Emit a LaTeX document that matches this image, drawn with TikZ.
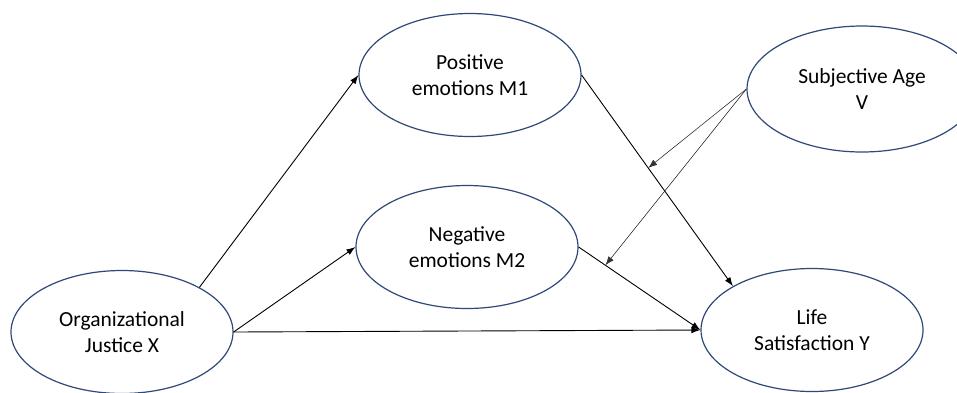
\documentclass[tikz,border=0pt]{standalone}
\usepackage{fontspec}
\setmainfont{Carlito}
\usetikzlibrary{shapes.geometric,arrows.meta,calc}
\definecolor{ellblue}{RGB}{47,72,120}
\tikzset{
  var/.style={ellipse, draw=ellblue, line width=1.2pt, fill=white, inner sep=0pt,
    minimum width=222pt, minimum height=123pt, align=center,
    font=\fontsize{21.5}{26}\selectfont},
  arr/.style={-{Latex[length=9pt,width=6.5pt]}, line width=0.9pt, black},
  modarr/.style={-{Latex[length=9pt,width=6.5pt]}, line width=0.6pt, black!80},
}
\begin{document}
\begin{tikzpicture}[x=1pt,y=-1pt]
\useasboundingbox (0,0) rectangle (957,392);
\node[var] (X) at (122,332) {Organizational\\Justice X};
\node[var] (M1) at (470,75) {Positive\\emotions M1};
\node[var] (M2) at (467,247) {Negative\\emotions M2};
\node[var, minimum width=230pt, minimum height=126pt] (V) at (862,89) {Subjective Age\\V};
\node[var] (Y) at (812,330) {Life\\Satisfaction Y};
\coordinate (p1) at ($(M1.east)!0.44!(Y.151)$);
\coordinate (p2) at ($(M2.east)!0.22!(Y.west)$);
\draw[arr] (X.30) -- (M1.west);
\draw[arr] (X.east) -- (M2.west);
\draw[arr] (X.east) -- (Y.west);
\draw[arr] (M2.east) -- (Y.west);
\draw[arr] (M1.east) -- (Y.151);
\draw[modarr] (V.west) -- (p1);
\draw[modarr] (V.west) -- (p2);
\end{tikzpicture}
\end{document}
